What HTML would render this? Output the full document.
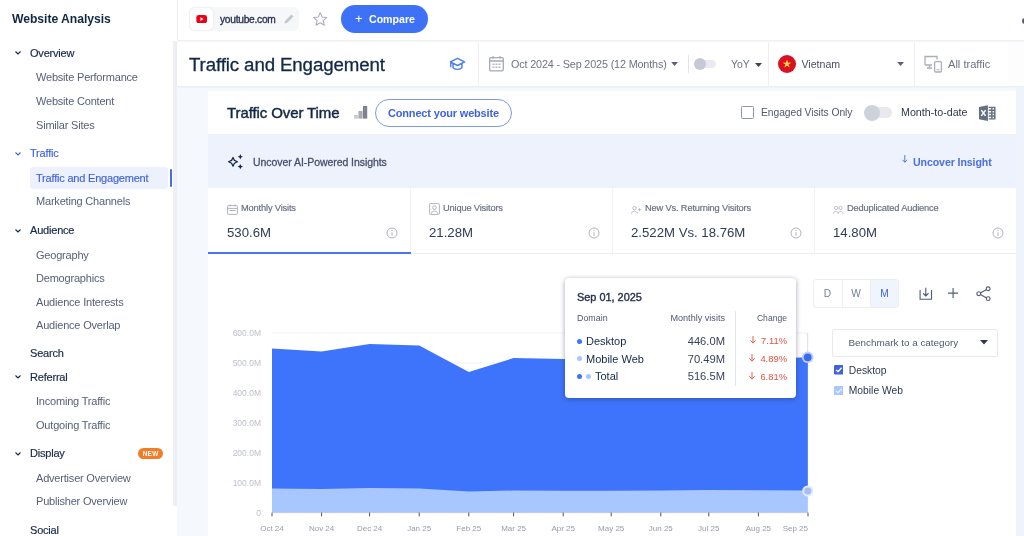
<!DOCTYPE html>
<html lang="en">
<head>
<meta charset="utf-8">
<title>Traffic and Engagement</title>
<style>
*{box-sizing:border-box;margin:0;padding:0}
html,body{width:1024px;height:536px;overflow:hidden;background:#f5f8fd;font-family:"Liberation Sans",sans-serif;color:#122845}
.abs{position:absolute}
#sidebar{position:absolute;left:0;top:0;width:177px;height:536px;background:#fff}
#sidebar .scroll{position:absolute;left:173px;top:41px;width:4px;height:465px;background:#eff0f5}
.nav{position:absolute;white-space:nowrap;line-height:16px;font-size:11.5px}
.nav.h{left:30px;color:#122845;font-size:11px;letter-spacing:-.2px;-webkit-text-stroke:0.18px #1a2a48;color:#1a2a48}
.nav.s{left:36px;color:#566177;font-size:11px;letter-spacing:-.2px}
.nav.blue{color:#3e63dd;-webkit-text-stroke:0.15px #3e63dd}
.chev{position:absolute;left:14px;width:8px;height:6px}
#topbar{position:absolute;left:177px;top:0;width:847px;height:41px;background:#fff;border-bottom:1px solid #eef0f4}
#hdr{position:absolute;left:177px;top:42px;width:847px;height:44px;background:#fff;box-shadow:0 1px 2px rgba(205,212,228,.4)}
#card{position:absolute;left:208px;top:91px;width:808px;height:445px;background:#fff}

.t{position:absolute;white-space:nowrap;line-height:14px}
.sep{position:absolute;width:1px;background:#eceef3}
.g{color:#6b7385}
.tab-l{position:absolute;top:110px;font-size:9.3px;letter-spacing:-.17px;line-height:14px;color:#687085;-webkit-text-stroke:.18px #687085;white-space:nowrap}
.tab-v{position:absolute;top:133px;font-size:13.2px;line-height:18px;color:#323b54;white-space:nowrap}
.ax{position:absolute;font-size:8.5px;line-height:10px;color:#bcc1cc;white-space:nowrap}
.ax.xl{color:#969cab;font-size:8px}
.tt-r{position:absolute;white-space:nowrap;text-align:right}
</style>
</head>
<body>
<div id="sidebar">
  <div class="scroll"></div>
  <div class="nav" style="left:12px;top:11px;font-size:12.2px;font-weight:bold;color:#122845;letter-spacing:-.05px">Website Analysis</div>

  <svg class="chev" style="top:50px" viewBox="0 0 8 6"><path d="M1.5 1.5 L4 4 L6.5 1.5" fill="none" stroke="#122845" stroke-width="1.1"/></svg>
  <div class="nav h" style="top:45px">Overview</div>
  <div class="nav s" style="top:69px">Website Performance</div>
  <div class="nav s" style="top:93px">Website Content</div>
  <div class="nav s" style="top:117px">Similar Sites</div>

  <svg class="chev" style="top:151px" viewBox="0 0 8 6"><path d="M1.5 1.5 L4 4 L6.5 1.5" fill="none" stroke="#3e63dd" stroke-width="1.1"/></svg>
  <div class="nav h blue" style="top:145px">Traffic</div>
  <div class="abs" style="left:30px;top:167px;width:138px;height:22px;background:#edf1fd;border-radius:3px"></div>
  <div class="abs" style="left:169.5px;top:169px;width:2px;height:18px;background:#4a6be2;border-radius:1px"></div>
  <div class="nav s blue" style="top:170px">Traffic and Engagement</div>
  <div class="nav s" style="top:193px">Marketing Channels</div>

  <svg class="chev" style="top:228px" viewBox="0 0 8 6"><path d="M1.5 1.5 L4 4 L6.5 1.5" fill="none" stroke="#122845" stroke-width="1.1"/></svg>
  <div class="nav h" style="top:222px">Audience</div>
  <div class="nav s" style="top:247px">Geography</div>
  <div class="nav s" style="top:270px">Demographics</div>
  <div class="nav s" style="top:294px">Audience Interests</div>
  <div class="nav s" style="top:317px">Audience Overlap</div>

  <div class="nav h" style="top:345px">Search</div>

  <svg class="chev" style="top:374px" viewBox="0 0 8 6"><path d="M1.5 1.5 L4 4 L6.5 1.5" fill="none" stroke="#122845" stroke-width="1.1"/></svg>
  <div class="nav h" style="top:369px">Referral</div>
  <div class="nav s" style="top:393px">Incoming Traffic</div>
  <div class="nav s" style="top:417px">Outgoing Traffic</div>

  <svg class="chev" style="top:451px" viewBox="0 0 8 6"><path d="M1.5 1.5 L4 4 L6.5 1.5" fill="none" stroke="#122845" stroke-width="1.1"/></svg>
  <div class="nav h" style="top:445px">Display</div>
  <div class="abs" style="left:138.3px;top:448px;width:24.6px;height:11.4px;border-radius:6px;background:#f47c27;color:#fff;font-size:6.4px;font-weight:bold;line-height:11.6px;text-align:center;letter-spacing:.3px">NEW</div>
  <div class="nav s" style="top:470px">Advertiser Overview</div>
  <div class="nav s" style="top:493px">Publisher Overview</div>

  <div class="nav h" style="top:522px">Social</div>
</div>

<div id="topbar">
  <div class="abs" style="left:0;top:0;width:1px;height:41px;background:#eef0f4"></div>
  <div class="abs" style="left:12.4px;top:7px;width:109.5px;height:23.6px;background:#f6f7f9;border-radius:5px"></div>
  <div class="abs" style="left:13px;top:7.5px;width:23px;height:22.6px;background:#fff;border-radius:5px;box-shadow:0 0 2px rgba(120,130,150,.22)"></div>
  <svg class="abs" style="left:18.6px;top:15.3px" width="11.4" height="8.2" viewBox="0 0 13 10"><rect x="0" y="0" width="13" height="10" rx="2.8" fill="#f00014"/><path d="M5 2.8 L8.6 5 L5 7.2 Z" fill="#fff"/></svg>
  <div class="t" style="left:43px;top:13px;font-size:10.2px;color:#2a3350;-webkit-text-stroke:.35px #2a3350;letter-spacing:-.25px">youtube.com</div>
  <svg class="abs" style="left:106px;top:13px" width="12" height="12" viewBox="0 0 12 12"><path d="M1.5 10.5 L2 8 L8.5 1.5 L10.5 3.5 L4 10 Z" fill="#c3c7d0"/></svg>
  <svg class="abs" style="left:135px;top:11px" width="16.4" height="16.4" viewBox="0 0 18 18"><path d="M9 1.8 L11.1 6.6 L16.3 7.1 L12.4 10.6 L13.5 15.7 L9 13 L4.5 15.7 L5.6 10.6 L1.7 7.1 L6.9 6.6 Z" fill="none" stroke="#a9aeb8" stroke-width="1.2" stroke-linejoin="round"/></svg>
  <div class="abs" style="left:164px;top:5px;width:87px;height:28px;border-radius:14px;background:#3e72f6"></div>
  <div class="t" style="left:178px;top:12px;font-size:13px;color:#fff">+</div>
  <div class="t" style="left:192px;top:12px;font-size:10.6px;font-weight:bold;color:#fff;letter-spacing:0">Compare</div>
</div>
<div class="abs" style="left:1021.5px;top:17.5px;width:6px;height:6px;border-radius:3px;background:#535e76"></div>
<div id="hdr">
  <div class="t" style="left:12px;top:10.7px;font-size:18.7px;line-height:24px;color:#122845;letter-spacing:-.12px;-webkit-text-stroke:.3px #122845">Traffic and Engagement</div>
  <svg class="abs" style="left:272px;top:15px" width="17" height="15.2" viewBox="0 0 19 17"><path d="M9.5 1.5 L17.5 5.5 L9.5 9.5 L1.5 5.5 Z M4.5 7.5 V12 C6 14.5 13 14.5 14.5 12 V7.5 M2 6 V11" fill="none" stroke="#4a7ee8" stroke-width="1.6" stroke-linejoin="round" stroke-linecap="round"/></svg>
  <div class="sep" style="left:301px;top:0;height:44px"></div>
  <svg class="abs" style="left:312px;top:13px" width="15" height="17" viewBox="0 0 15 17"><rect x="0.7" y="2.6" width="13.6" height="13.2" rx="1.2" fill="none" stroke="#a4a9b5" stroke-width="1.3"/><path d="M0.7 6 H14.3 M4 1.3 V3.5 M11 1.3 V3.5" stroke="#a4a9b5" stroke-width="1.5" fill="none"/><path d="M3.5 8.5h2v1.6h-2z M6.5 8.5h2v1.6h-2z M9.5 8.5h2v1.6h-2z M3.5 11.5h2v1.6h-2z M6.5 11.5h2v1.6h-2z M9.5 11.5h2v1.6h-2z" fill="#b4b9c4"/></svg>
  <div class="t g" style="left:334px;top:15px;font-size:10.8px;letter-spacing:-.15px">Oct 2024 - Sep 2025 (12 Months)</div>
  <svg class="abs" style="left:493.5px;top:19.8px" width="7.2" height="4" viewBox="0 0 7 4"><path d="M0 0 H7 L3.5 4 Z" fill="#5a6275"/></svg>
  <div class="sep" style="left:511px;top:13px;height:18px;background:#e2e5eb"></div>
  <div class="abs" style="left:520px;top:18px;width:19px;height:8px;border-radius:4px;background:#e9ebf0"></div>
  <div class="abs" style="left:517px;top:16px;width:12px;height:12px;border-radius:6px;background:#c6cad6"></div>
  <div class="t g" style="left:554px;top:15.6px;font-size:10.4px">YoY</div>
  <svg class="abs" style="left:578px;top:20.6px" width="7" height="4" viewBox="0 0 7 4"><path d="M0 0 H7 L3.5 4 Z" fill="#3a4257"/></svg>
  <div class="sep" style="left:591px;top:0;height:44px"></div>
  <svg class="abs" style="left:601px;top:13px" width="18" height="18" viewBox="0 0 18 18"><circle cx="9" cy="9" r="9" fill="#da1023"/><path d="M9 4.6 L10.05 7.6 L13.2 7.65 L10.7 9.55 L11.6 12.6 L9 10.8 L6.4 12.6 L7.3 9.55 L4.8 7.65 L7.95 7.6 Z" fill="#ffd23a"/></svg>
  <div class="t" style="left:624.5px;top:15px;font-size:10.6px;color:#474e62">Vietnam</div>
  <svg class="abs" style="left:719.6px;top:20.4px" width="7.2" height="4" viewBox="0 0 7 4"><path d="M0 0 H7 L3.5 4 Z" fill="#5a6275"/></svg>
  <div class="sep" style="left:737px;top:0;height:44px"></div>
  <svg class="abs" style="left:747px;top:13px" width="19" height="18" viewBox="0 0 19 18"><path d="M1 10 V1.5 H13 V4.5 M1 10 H8 M3 13 H8 M5.5 10 V13" fill="none" stroke="#a9aeb9" stroke-width="1.3"/><rect x="10.6" y="6.6" width="6.8" height="10.4" rx="1.2" fill="none" stroke="#a9aeb9" stroke-width="1.3"/><path d="M12.5 14.8 H15.5" stroke="#a9aeb9" stroke-width="1"/></svg>
  <div class="t g" style="left:771px;top:15px;font-size:11.1px">All traffic</div>
  <div class="abs" style="left:831px;top:0;width:16px;height:44px;background:#fdfdfe"></div>
</div>
<div class="abs" style="left:1016px;top:88px;width:8px;height:448px;background:#eff3fc"></div>
<div id="card">
  <div class="t" style="left:19px;top:12px;font-size:15px;line-height:20px;color:#122845;-webkit-text-stroke:.45px #122845;letter-spacing:-.1px">Traffic Over Time</div>
  <svg class="abs" style="left:146px;top:15.3px" width="13.6" height="12.6" viewBox="0 0 14 14" preserveAspectRatio="none"><rect x="0" y="10" width="4.2" height="4" fill="#c9ccd3"/><rect x="4.6" y="5.5" width="4.2" height="8.5" fill="#a7abb5"/><rect x="9.2" y="0" width="4.4" height="14" fill="#7d828e"/></svg>
  <div class="abs" style="left:167px;top:8px;width:137px;height:27.5px;border:1px solid #7d9aea;border-radius:14px;background:#fff"></div>
  <div class="t" style="left:180px;top:14.6px;font-size:11px;font-weight:bold;color:#3e63dd;letter-spacing:-.17px">Connect your website</div>

  <div class="abs" style="left:533px;top:15px;width:13px;height:13px;border:1px solid #8f96a3;border-radius:1.5px;background:#fff"></div>
  <div class="t" style="left:553px;top:14.5px;font-size:10.3px;letter-spacing:-.06px;color:#4f586d">Engaged Visits Only</div>
  <div class="abs" style="left:660px;top:16.3px;width:24px;height:10.4px;border-radius:5.2px;background:#e7e9ee"></div>
  <div class="abs" style="left:656px;top:13.5px;width:16px;height:16px;border-radius:8px;background:#cdd2db"></div>
  <div class="t" style="left:693px;top:14px;font-size:10.7px;color:#2f384f">Month-to-date</div>
  <svg class="abs" style="left:770.9px;top:13.5px" width="16.8" height="16.2" viewBox="0 0 17 18" preserveAspectRatio="none"><path d="M0 2.2 L9 0.3 V17.7 L0 15.8 Z" fill="#64707f"/><path d="M2.3 5.8 L6.7 12.2 M6.7 5.8 L2.3 12.2" stroke="#fff" stroke-width="1.5"/><path d="M9.8 2.6 H16 V15.4 H9.8 M9.8 5.8 H16 M9.8 9 H16 M9.8 12.2 H16 M13 2.6 V15.4" fill="none" stroke="#64707f" stroke-width="1.5"/></svg>

  <div class="abs" style="left:0;top:43px;width:808px;height:54px;background:#edf2fd"></div>
  <svg class="abs" style="left:19px;top:62px" width="17" height="17" viewBox="0 0 17 17"><path d="M6.00 4.40 L7.41 7.39 L10.40 8.80 L7.41 10.21 L6.00 13.20 L4.59 10.21 L1.60 8.80 L4.59 7.39 Z" fill="none" stroke="#122845" stroke-width="1.25" stroke-linejoin="round"/><path d="M13.30 1.00 L14.11 2.89 L16.00 3.70 L14.11 4.51 L13.30 6.40 L12.49 4.51 L10.60 3.70 L12.49 2.89 Z" fill="#122845"/><path d="M13.30 10.90 L14.11 12.79 L16.00 13.60 L14.11 14.41 L13.30 16.30 L12.49 14.41 L10.60 13.60 L12.49 12.79 Z" fill="#122845"/></svg>
  <div class="t" style="left:45px;top:64px;font-size:10.5px;color:#465069;-webkit-text-stroke:.28px #465069;letter-spacing:-.06px">Uncover AI-Powered Insights</div>
  <svg class="abs" style="left:694px;top:64.3px" width="5.6" height="8" viewBox="0 0 6 9"><path d="M3 0 V8 M0.4 5.4 L3 8.2 L5.6 5.4" fill="none" stroke="#3e63dd" stroke-width=".95"/></svg>
  <div class="t" style="left:705px;top:63.8px;font-size:10.6px;font-weight:bold;color:#4a6fe0;letter-spacing:-.1px">Uncover Insight</div>

  <div class="abs" style="left:0;top:162px;width:808px;height:1px;background:#eceff4"></div>
  <div class="sep" style="left:202px;top:97px;height:65px;background:#f0f2f6"></div>
  <div class="sep" style="left:404px;top:97px;height:65px;background:#f0f2f6"></div>
  <div class="sep" style="left:606px;top:97px;height:65px;background:#f0f2f6"></div>
  <div class="abs" style="left:0;top:160.5px;width:203px;height:2.5px;background:#4b78e6"></div>

  <svg class="abs" style="left:19px;top:113px" width="11" height="11" viewBox="0 0 11 11"><rect x=".6" y="1.6" width="9.8" height="8.8" rx="1" fill="none" stroke="#adb2be" stroke-width="1"/><path d="M.6 4.4 H10.4 M3 .3 V2.4 M8 .3 V2.4 M2.5 6.5 H8.5" stroke="#adb2be" stroke-width="1" fill="none"/></svg>
  <div class="tab-l" style="left:33px">Monthly Visits</div>
  <div class="tab-v" style="left:19px">530.6M</div>
  <svg class="abs" style="left:178px;top:136px" width="12" height="12" viewBox="0 0 12 12"><circle cx="6" cy="6" r="5" fill="none" stroke="#b0b3ba" stroke-width="1"/><path d="M6 5.2 V8.6" stroke="#b0b3ba" stroke-width="1.1"/><circle cx="6" cy="3.6" r=".7" fill="#b0b3ba"/></svg>
  <svg class="abs" style="left:221px;top:112px" width="11" height="12" viewBox="0 0 11 12"><rect x=".6" y=".6" width="9.8" height="10.8" rx=".8" fill="none" stroke="#b0b5c0" stroke-width="1"/><circle cx="5.5" cy="4.6" r="1.8" fill="none" stroke="#b0b5c0" stroke-width="1"/><path d="M2.2 10.8 C2.4 7.2 8.6 7.2 8.8 10.8" fill="none" stroke="#b0b5c0" stroke-width="1"/></svg>
  <div class="tab-l" style="left:235px">Unique Visitors</div>
  <div class="tab-v" style="left:221px">21.28M</div>
  <svg class="abs" style="left:380px;top:136px" width="12" height="12" viewBox="0 0 12 12"><circle cx="6" cy="6" r="5" fill="none" stroke="#b0b3ba" stroke-width="1"/><path d="M6 5.2 V8.6" stroke="#b0b3ba" stroke-width="1.1"/><circle cx="6" cy="3.6" r=".7" fill="#b0b3ba"/></svg>
  <svg class="abs" style="left:423px;top:114px" width="10.5" height="9.6" viewBox="0 0 12 11"><circle cx="4" cy="3.6" r="2" fill="none" stroke="#b0b5c0" stroke-width="1"/><path d="M.6 10 C.8 6.2 7.2 6.2 7.4 10" fill="none" stroke="#b0b5c0" stroke-width="1"/><path d="M9.8 3.5 V7.1 M8 5.3 H11.6" stroke="#b0b5c0" stroke-width="1"/></svg>
  <div class="tab-l" style="left:437px">New Vs. Returning Visitors</div>
  <div class="tab-v" style="left:423px">2.522M Vs. 18.76M</div>
  <svg class="abs" style="left:582px;top:136px" width="12" height="12" viewBox="0 0 12 12"><circle cx="6" cy="6" r="5" fill="none" stroke="#b0b3ba" stroke-width="1"/><path d="M6 5.2 V8.6" stroke="#b0b3ba" stroke-width="1.1"/><circle cx="6" cy="3.6" r=".7" fill="#b0b3ba"/></svg>
  <svg class="abs" style="left:625px;top:114px" width="10.5" height="9.6" viewBox="0 0 12 11"><circle cx="3.6" cy="3.4" r="1.9" fill="none" stroke="#b0b5c0" stroke-width="1"/><circle cx="8.6" cy="3.4" r="1.9" fill="none" stroke="#b0b5c0" stroke-width="1"/><path d="M.5 10 C.6 6.4 6 6.4 6.1 10 M6.1 10 C6.2 6.4 11.4 6.4 11.5 10" fill="none" stroke="#b0b5c0" stroke-width="1"/></svg>
  <div class="tab-l" style="left:639px">Deduplicated Audience</div>
  <div class="tab-v" style="left:625px">14.80M</div>
  <svg class="abs" style="left:784px;top:136px" width="12" height="12" viewBox="0 0 12 12"><circle cx="6" cy="6" r="5" fill="none" stroke="#b0b3ba" stroke-width="1"/><path d="M6 5.2 V8.6" stroke="#b0b3ba" stroke-width="1.1"/><circle cx="6" cy="3.6" r=".7" fill="#b0b3ba"/></svg>

<!--CHART-->
  <svg class="abs" style="left:0;top:0" width="808" height="445" viewBox="0 0 808 445">
    <line x1="64" x2="600" y1="242" y2="242" stroke="#f1f3f7" stroke-width="1"/><line x1="64" x2="600" y1="272" y2="272" stroke="#f1f3f7" stroke-width="1"/><line x1="64" x2="600" y1="302" y2="302" stroke="#f1f3f7" stroke-width="1"/><line x1="64" x2="600" y1="332" y2="332" stroke="#f1f3f7" stroke-width="1"/><line x1="64" x2="600" y1="362" y2="362" stroke="#f1f3f7" stroke-width="1"/><line x1="64" x2="600" y1="392" y2="392" stroke="#f1f3f7" stroke-width="1"/>
    <polygon points="64.0,257.5 113.6,260.5 161.6,253.0 211.2,254.5 260.8,281.0 305.6,267.0 355.2,268.0 403.2,268.5 452.8,268.5 500.8,268.0 550.4,268.0 600.0,266.2 600,421.6 64,421.6" fill="#3e74fb"/>
    <polygon points="64.0,397.5 113.6,398.0 161.6,397.0 211.2,397.5 260.8,400.5 305.6,399.5 355.2,399.8 403.2,399.8 452.8,399.5 500.8,399.0 550.4,399.3 600.0,399.6 600,421.6 64,421.6" fill="#a8c6ff"/>
    <line x1="64" x2="600" y1="421.6" y2="421.6" stroke="#c9cdd6" stroke-width="1"/>
    <line x1="64.0" x2="64.0" y1="421.6" y2="425.40000000000003" stroke="#4d525e" stroke-width="1"/><line x1="113.6" x2="113.6" y1="421.6" y2="425.40000000000003" stroke="#4d525e" stroke-width="1"/><line x1="161.6" x2="161.6" y1="421.6" y2="425.40000000000003" stroke="#4d525e" stroke-width="1"/><line x1="211.2" x2="211.2" y1="421.6" y2="425.40000000000003" stroke="#4d525e" stroke-width="1"/><line x1="260.8" x2="260.8" y1="421.6" y2="425.40000000000003" stroke="#4d525e" stroke-width="1"/><line x1="305.6" x2="305.6" y1="421.6" y2="425.40000000000003" stroke="#4d525e" stroke-width="1"/><line x1="355.2" x2="355.2" y1="421.6" y2="425.40000000000003" stroke="#4d525e" stroke-width="1"/><line x1="403.2" x2="403.2" y1="421.6" y2="425.40000000000003" stroke="#4d525e" stroke-width="1"/><line x1="452.8" x2="452.8" y1="421.6" y2="425.40000000000003" stroke="#4d525e" stroke-width="1"/><line x1="500.8" x2="500.8" y1="421.6" y2="425.40000000000003" stroke="#4d525e" stroke-width="1"/><line x1="550.4" x2="550.4" y1="421.6" y2="425.40000000000003" stroke="#4d525e" stroke-width="1"/><line x1="600.0" x2="600.0" y1="421.6" y2="425.40000000000003" stroke="#4d525e" stroke-width="1"/>
    <line x1="599.7" x2="599.7" y1="242" y2="266" stroke="#d3d8e2" stroke-width=".9"/>
    <line x1="599.7" x2="599.7" y1="266" y2="421.6" stroke="#ffffff" stroke-opacity=".18" stroke-width="1"/>
    <circle cx="599.7" cy="266.3" r="5.8" fill="#bccefa"/>
    <circle cx="599.7" cy="266.3" r="3.9" fill="#3a6cf0"/>
    <circle cx="599.8" cy="400" r="5.6" fill="#e2eafd"/>
    <circle cx="599.8" cy="400" r="3.6" fill="#a7bdf6"/>
  </svg>
  <div class="ax" style="left:0;width:53px;text-align:right;top:237px">600.0M</div><div class="ax" style="left:0;width:53px;text-align:right;top:267px">500.0M</div><div class="ax" style="left:0;width:53px;text-align:right;top:297px">400.0M</div><div class="ax" style="left:0;width:53px;text-align:right;top:327px">300.0M</div><div class="ax" style="left:0;width:53px;text-align:right;top:357px">200.0M</div><div class="ax" style="left:0;width:53px;text-align:right;top:387px">100.0M</div><div class="ax" style="left:0;width:53px;text-align:right;top:417px">0</div>
  <div class="ax xl" style="left:34.0px;width:60px;text-align:center;top:433.29999999999995px">Oct 24</div><div class="ax xl" style="left:83.6px;width:60px;text-align:center;top:433.29999999999995px">Nov 24</div><div class="ax xl" style="left:131.6px;width:60px;text-align:center;top:433.29999999999995px">Dec 24</div><div class="ax xl" style="left:181.2px;width:60px;text-align:center;top:433.29999999999995px">Jan 25</div><div class="ax xl" style="left:230.8px;width:60px;text-align:center;top:433.29999999999995px">Feb 25</div><div class="ax xl" style="left:275.6px;width:60px;text-align:center;top:433.29999999999995px">Mar 25</div><div class="ax xl" style="left:325.2px;width:60px;text-align:center;top:433.29999999999995px">Apr 25</div><div class="ax xl" style="left:373.2px;width:60px;text-align:center;top:433.29999999999995px">May 25</div><div class="ax xl" style="left:422.8px;width:60px;text-align:center;top:433.29999999999995px">Jun 25</div><div class="ax xl" style="left:470.8px;width:60px;text-align:center;top:433.29999999999995px">Jul 25</div><div class="ax xl" style="left:520.4px;width:60px;text-align:center;top:433.29999999999995px">Aug 25</div><div class="ax xl" style="left:560.0px;width:40px;text-align:right;top:433.29999999999995px">Sep 25</div>
<!--/CHART-->

  <div class="abs" style="left:357px;top:187px;width:231px;height:120px;background:#fff;border-radius:4px;box-shadow:0 1px 5px rgba(30,40,70,.42)"></div>
  <div class="t" style="left:369px;top:199px;font-size:10.9px;color:#2a3350;-webkit-text-stroke:.4px #2a3350">Sep 01, 2025</div>
  <div class="t" style="left:369px;top:221px;font-size:8.9px;line-height:12px;color:#4f586d">Domain</div>
  <div class="t tt-r" style="left:437px;width:80px;top:221px;font-size:9.1px;line-height:12px;color:#4f586d">Monthly visits</div>
  <div class="t tt-r" style="left:529px;width:50px;top:221px;font-size:8.6px;line-height:12px;color:#4f586d">Change</div>
  <div class="sep" style="left:527px;top:220px;height:75px;background:#e3e6ec"></div>

  <div class="abs" style="left:369px;top:248px;width:5px;height:5px;border-radius:3px;background:#3e74fb"></div>
  <div class="t" style="left:378px;top:243px;font-size:11px;color:#122845">Desktop</div>
  <div class="t tt-r" style="left:437px;width:80px;top:243px;font-size:11.2px;color:#3a4257">446.0M</div>
  <div class="t tt-r" style="left:529px;width:50px;top:242.6px;font-size:9.4px;color:#e0523e"><svg width="6" height="8" viewBox="0 0 6 8" style="margin-right:5px;vertical-align:-0.5px"><path d="M3 0 V7 M0.4 4.4 L3 7.2 L5.6 4.4" fill="none" stroke="#e0523e" stroke-width=".9"/></svg>7.11%</div>

  <div class="abs" style="left:369px;top:265px;width:5px;height:5px;border-radius:3px;background:#a8c6ff"></div>
  <div class="t" style="left:378px;top:261px;font-size:11px;color:#122845">Mobile Web</div>
  <div class="t tt-r" style="left:437px;width:80px;top:261px;font-size:11.2px;color:#3a4257">70.49M</div>
  <div class="t tt-r" style="left:529px;width:50px;top:260.6px;font-size:9.4px;color:#e0523e"><svg width="6" height="8" viewBox="0 0 6 8" style="margin-right:5px;vertical-align:-0.5px"><path d="M3 0 V7 M0.4 4.4 L3 7.2 L5.6 4.4" fill="none" stroke="#e0523e" stroke-width=".9"/></svg>4.89%</div>

  <div class="abs" style="left:369px;top:283px;width:5px;height:5px;border-radius:3px;background:#3e74fb"></div>
  <div class="abs" style="left:378px;top:283px;width:5px;height:5px;border-radius:3px;background:#a8c6ff"></div>
  <div class="t" style="left:387px;top:278px;font-size:11px;color:#122845">Total</div>
  <div class="t tt-r" style="left:437px;width:80px;top:278px;font-size:11.2px;color:#3a4257">516.5M</div>
  <div class="t tt-r" style="left:529px;width:50px;top:278.5px;font-size:9.4px;color:#e0523e"><svg width="6" height="8" viewBox="0 0 6 8" style="margin-right:5px;vertical-align:-0.5px"><path d="M3 0 V7 M0.4 4.4 L3 7.2 L5.6 4.4" fill="none" stroke="#e0523e" stroke-width=".9"/></svg>6.81%</div>

  <div class="abs" style="left:605px;top:188px;width:86px;height:29px;border:1px solid #eceef4;border-radius:3px;background:#fff"></div>
  <div class="abs" style="left:662.5px;top:189px;width:27.5px;height:27px;background:#f0f4fd"></div>
  <div class="sep" style="left:633.5px;top:189px;height:27px;background:#eceef4"></div>
  <div class="sep" style="left:662px;top:189px;height:27px;background:#eceef4"></div>
  <div class="t" style="left:605px;width:29px;text-align:center;top:195.5px;font-size:10.2px;color:#76809b">D</div>
  <div class="t" style="left:634px;width:28px;text-align:center;top:195.5px;font-size:10.2px;color:#76809b">W</div>
  <div class="t" style="left:662.5px;width:28px;text-align:center;top:195.5px;font-size:10.2px;color:#3e63dd">M</div>
  <svg class="abs" style="left:711.3px;top:195.5px" width="13.6" height="13.8" viewBox="0 0 15 15"><path d="M1.2 3.2 V13.4 H13.8 V3.2 M7.5 0.6 V9.6 M4.5 6.8 L7.5 9.8 L10.5 6.8" fill="none" stroke="#535e76" stroke-width="1.25"/></svg>
  <svg class="abs" style="left:740.3px;top:197.3px" width="10.2" height="10.2" viewBox="0 0 11 11"><path d="M5.5 0 V11 M0 5.5 H11" stroke="#535e76" stroke-width="1.25"/></svg>
  <svg class="abs" style="left:767.8px;top:195.2px" width="15.2" height="15.4" viewBox="0 0 16 16"><path d="M3.2 8 L12.6 2.8 M3.2 8 L12.6 13.2" stroke="#535e76" stroke-width="1.2"/><circle cx="2.9" cy="8" r="2" fill="#fff" stroke="#535e76" stroke-width="1.2"/><circle cx="12.8" cy="2.8" r="2" fill="#fff" stroke="#535e76" stroke-width="1.2"/><circle cx="12.8" cy="13.2" r="2" fill="#fff" stroke="#535e76" stroke-width="1.2"/></svg>

  <div class="abs" style="left:624px;top:237.5px;width:166px;height:28.5px;border:1px solid #e6e9ef;border-radius:2px;background:#fff"></div>
  <div class="t" style="left:640.5px;top:245px;font-size:9.9px;color:#4f586d">Benchmark to a category</div>
  <svg class="abs" style="left:771.5px;top:249.2px" width="8" height="4.5" viewBox="0 0 8 4.5"><path d="M0 0 H8 L4 4.5 Z" fill="#2f384f"/></svg>

  <svg class="abs" style="left:625.5px;top:274.3px" width="9.6" height="9.6" viewBox="0 0 11 11"><rect width="11" height="11" rx="1.5" fill="#3e63dd"/><path d="M2.4 5.6 L4.6 7.8 L8.7 3.2" fill="none" stroke="#fff" stroke-width="1.5"/></svg>
  <div class="t" style="left:640.8px;top:272.5px;font-size:10.3px;color:#2f384f">Desktop</div>
  <svg class="abs" style="left:625.5px;top:294.9px" width="9.6" height="9.6" viewBox="0 0 11 11"><rect width="11" height="11" rx="1.5" fill="#a8c6ff"/><path d="M2.4 5.6 L4.6 7.8 L8.7 3.2" fill="none" stroke="#e9f0ff" stroke-width="1.5"/></svg>
  <div class="t" style="left:640.8px;top:293.4px;font-size:10.3px;color:#2f384f">Mobile Web</div>
</div>
</body>
</html>
